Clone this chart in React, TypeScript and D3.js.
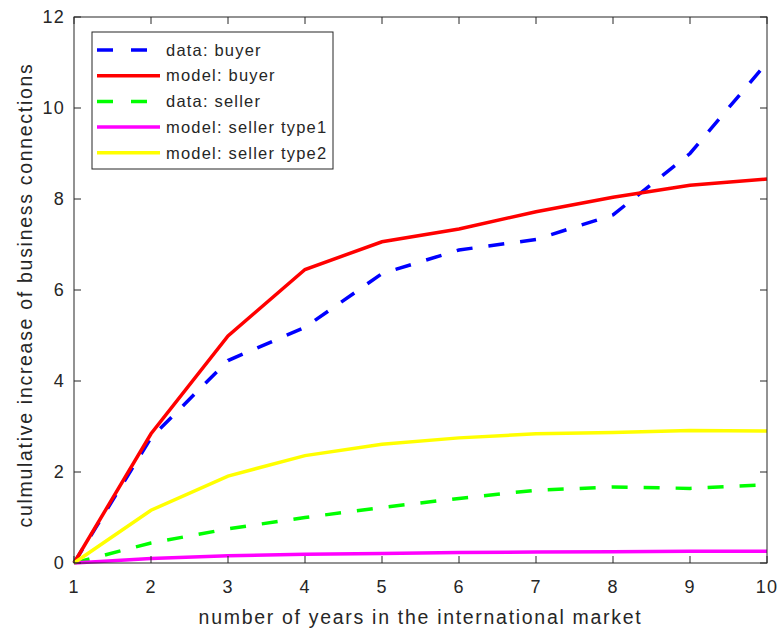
import { useEffect, useRef } from "react"
import * as d3 from "d3"

const years = [1, 2, 3, 4, 5, 6, 7, 8, 9, 10]
const dataBuyer = [0, 2.75, 4.45, 5.18, 6.36, 6.88, 7.11, 7.65, 9.0, 11.0]
const modelBuyer = [0, 2.84, 4.99, 6.45, 7.06, 7.34, 7.72, 8.04, 8.3, 8.44]
const dataSeller = [0, 0.44, 0.75, 1.0, 1.22, 1.42, 1.6, 1.67, 1.64, 1.72]
const modelSellerType1 = [0, 0.1, 0.16, 0.19, 0.21, 0.23, 0.24, 0.25, 0.26, 0.26]
const modelSellerType2 = [0, 1.16, 1.91, 2.36, 2.61, 2.75, 2.84, 2.87, 2.91, 2.9]

const xTicks = [1, 2, 3, 4, 5, 6, 7, 8, 9, 10]
const yTicks = [0, 2, 4, 6, 8, 10, 12]

const series = [
  { name: "data: buyer", values: dataBuyer, color: "#0000ff", dashed: true },
  { name: "model: buyer", values: modelBuyer, color: "#ff0000", dashed: false },
  { name: "data: seller", values: dataSeller, color: "#00ff00", dashed: true },
  { name: "model: seller type1", values: modelSellerType1, color: "#ff00ff", dashed: false },
  { name: "model: seller type2", values: modelSellerType2, color: "#ffff00", dashed: false }
]

export default function App() {

  const ref = useRef<SVGSVGElement | null>(null)

  useEffect(() => {

    const svg = d3.select(ref.current)
    svg.selectAll("*").remove()

    const width = 780
    const height = 631
    const m = { left: 74, right: 13, top: 17, bottom: 68 }
    const ink = "#262626"
    const font = "'Liberation Sans', Arial, sans-serif"

    const x = d3.scaleLinear()
      .domain([1, 10])
      .range([m.left, width - m.right])

    const y = d3.scaleLinear()
      .domain([0, 12])
      .range([height - m.bottom, m.top])

    svg.attr("width", width).attr("height", height)

    svg.append("rect")
      .attr("width", width)
      .attr("height", height)
      .attr("fill", "#fff")

    const tickLen = 7
    const x0 = x.range()[0], x1 = x.range()[1]
    const y0 = y.range()[0], y1 = y.range()[1]

    // lines
    const line = d3.line<number>()
      .x((_, i) => x(years[i]))
      .y(d => y(d))

    const plot = svg.append("g")
    series.forEach(s => {
      plot.append("path")
        .datum(s.values)
        .attr("d", line)
        .attr("fill", "none")
        .attr("stroke", s.color)
        .attr("stroke-width", 3.5)
        .attr("stroke-dasharray", s.dashed ? "16,16" : null)
    })

    // axes box + ticks
    const ax = svg.append("g")
    ax.append("rect")
      .attr("x", x0).attr("y", y1)
      .attr("width", x1 - x0).attr("height", y0 - y1)
      .attr("fill", "none").attr("stroke", ink).attr("stroke-width", 1)

    xTicks.forEach(t => {
      ax.append("line")
        .attr("x1", x(t)).attr("x2", x(t))
        .attr("y1", y0).attr("y2", y0 - tickLen)
        .attr("stroke", ink)
      ax.append("line")
        .attr("x1", x(t)).attr("x2", x(t))
        .attr("y1", y1).attr("y2", y1 + tickLen)
        .attr("stroke", ink)
      ax.append("text")
        .attr("x", x(t)).attr("y", y0 + 30)
        .attr("text-anchor", "middle")
        .attr("font-family", font).attr("font-size", 18)
        .attr("letter-spacing", 1.2)
        .attr("fill", ink)
        .text(t)
    })

    yTicks.forEach(t => {
      ax.append("line")
        .attr("x1", x0).attr("x2", x0 + tickLen)
        .attr("y1", y(t)).attr("y2", y(t))
        .attr("stroke", ink)
      ax.append("line")
        .attr("x1", x1).attr("x2", x1 - tickLen)
        .attr("y1", y(t)).attr("y2", y(t))
        .attr("stroke", ink)
      ax.append("text")
        .attr("x", x0 - 9).attr("y", y(t))
        .attr("dy", "0.35em")
        .attr("text-anchor", "end")
        .attr("font-family", font).attr("font-size", 18)
        .attr("letter-spacing", 1.2)
        .attr("fill", ink)
        .text(t)
    })

    svg.append("text")
      .attr("x", (x0 + x1) / 2).attr("y", 624)
      .attr("text-anchor", "middle")
      .attr("font-family", font).attr("font-size", 19.5)
      .attr("letter-spacing", 1.7)
      .attr("fill", ink)
      .text("number of years in the international market")

    svg.append("text")
      .attr("transform", `translate(32,${(y0 + y1) / 2 + 5}) rotate(-90)`)
      .attr("text-anchor", "middle")
      .attr("font-family", font).attr("font-size", 19.5)
      .attr("letter-spacing", 1.7)
      .attr("fill", ink)
      .text("culmulative increase of business connections")

    // legend
    const lg = svg.append("g")
    lg.append("rect")
      .attr("x", 92).attr("y", 32)
      .attr("width", 241).attr("height", 137)
      .attr("fill", "#fff").attr("stroke", ink).attr("stroke-width", 1)

    series.forEach((s, i) => {
      const ly = 50 + i * 25.7
      lg.append("line")
        .attr("x1", 97).attr("x2", 160)
        .attr("y1", ly).attr("y2", ly)
        .attr("stroke", s.color)
        .attr("stroke-width", 3.5)
        .attr("stroke-dasharray", s.dashed ? "16,18" : null)
      lg.append("text")
        .attr("x", 166).attr("y", ly)
        .attr("dy", "0.35em")
        .attr("font-family", font).attr("font-size", 16.5)
        .attr("letter-spacing", 1.2)
        .attr("fill", ink)
        .text(s.name)
    })

  }, [])

  return <svg ref={ref} style={{ position: "absolute", left: 0, top: 0, display: "block" }} />
}
